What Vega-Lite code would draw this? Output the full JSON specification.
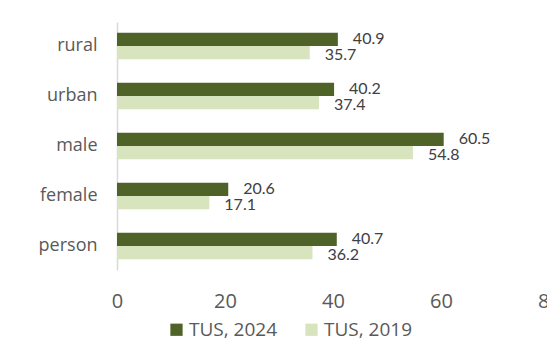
{
  "$schema": "https://vega.github.io/schema/vega-lite/v6.json",
  "autosize": {"type": "none"},
  "padding": {"left": 117, "top": 22, "right": 0, "bottom": 74},
  "width": 432,
  "height": 248,
  "background": "white",
  "config": {"view": {"stroke": null}},
  "data": {
    "values": [
      {"group": "rural", "series": "TUS, 2024", "value": 40.9},
      {"group": "rural", "series": "TUS, 2019", "value": 35.7},
      {"group": "urban", "series": "TUS, 2024", "value": 40.2},
      {"group": "urban", "series": "TUS, 2019", "value": 37.4},
      {"group": "male", "series": "TUS, 2024", "value": 60.5},
      {"group": "male", "series": "TUS, 2019", "value": 54.8},
      {"group": "female", "series": "TUS, 2024", "value": 20.6},
      {"group": "female", "series": "TUS, 2019", "value": 17.1},
      {"group": "person", "series": "TUS, 2024", "value": 40.7},
      {"group": "person", "series": "TUS, 2019", "value": 36.2}
    ]
  },
  "encoding": {
    "y": {
      "field": "group",
      "type": "nominal",
      "sort": ["rural", "urban", "male", "female", "person"],
      "scale": {"paddingInner": 0.47, "paddingOuter": 0.215},
      "axis": {
        "title": null,
        "ticks": false,
        "domainColor": "#d9d9d9",
        "domainWidth": 1.5,
        "labelFont": "Open Sans",
        "labelFontSize": 18,
        "labelColor": "#595959",
        "labelPadding": 20
      }
    },
    "yOffset": {
      "field": "series",
      "type": "nominal",
      "sort": ["TUS, 2024", "TUS, 2019"],
      "scale": {"paddingInner": 0, "paddingOuter": 0}
    },
    "x": {
      "field": "value",
      "type": "quantitative",
      "scale": {"domain": [0, 80], "nice": false},
      "axis": {
        "title": null,
        "values": [0, 20, 40, 60, 80],
        "grid": false,
        "domain": false,
        "ticks": false,
        "labelFont": "Open Sans",
        "labelFontSize": 20,
        "labelColor": "#595959",
        "labelPadding": 21,
        "labelFlush": false
      }
    }
  },
  "layer": [
    {
      "mark": {"type": "bar"},
      "encoding": {
        "color": {
          "field": "series",
          "type": "nominal",
          "sort": ["TUS, 2024", "TUS, 2019"],
          "scale": {"domain": ["TUS, 2024", "TUS, 2019"], "range": ["#4f6228", "#d7e4bd"]},
          "legend": {
            "title": null,
            "orient": "none",
            "direction": "horizontal",
            "legendX": 50,
            "legendY": 298,
            "symbolType": "square",
            "symbolSize": 150,
            "symbolStrokeWidth": 0,
            "labelFont": "Open Sans",
            "labelFontSize": 19,
            "labelColor": "#595959",
            "columnPadding": 24,
            "labelOffset": 3
          }
        }
      }
    },
    {
      "transform": [{"filter": "datum.series === 'TUS, 2024'"}],
      "mark": {"type": "text", "align": "left", "baseline": "middle", "dx": 15, "dy": 0, "font": "Lato", "fontSize": 16, "color": "#404040"},
      "encoding": {
        "text": {"field": "value", "type": "quantitative", "format": ".1f"}
      }
    },
    {
      "transform": [{"filter": "datum.series === 'TUS, 2019'"}],
      "mark": {"type": "text", "align": "left", "baseline": "middle", "dx": 15, "dy": 2, "font": "Lato", "fontSize": 16, "color": "#404040"},
      "encoding": {
        "text": {"field": "value", "type": "quantitative", "format": ".1f"}
      }
    }
  ]
}
